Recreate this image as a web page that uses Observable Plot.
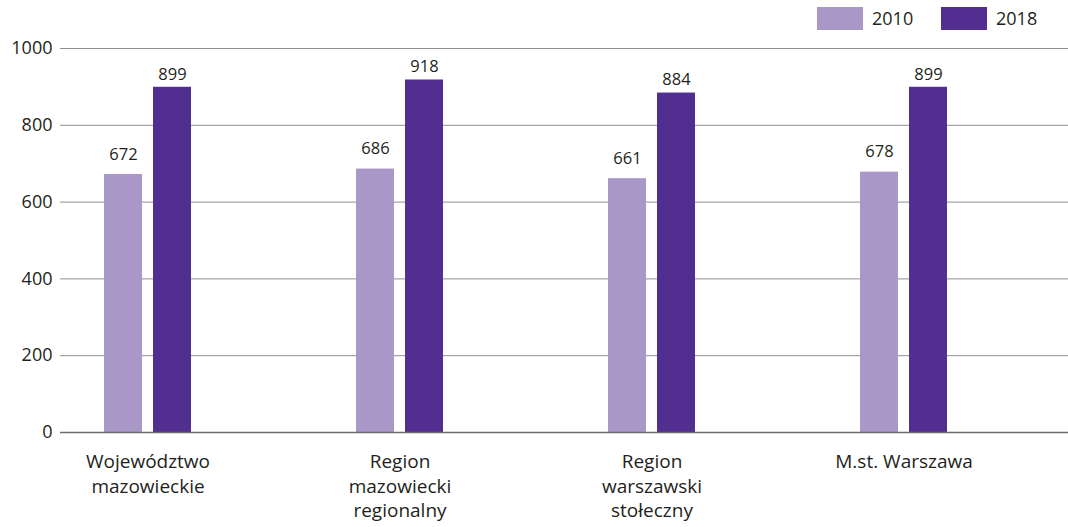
<!DOCTYPE html>
<html>
<head>
<meta charset="utf-8">
<script src="https://cdn.jsdelivr.net/npm/d3@7"></script>
<script src="https://cdn.jsdelivr.net/npm/@observablehq/plot@0.6"></script>
<style>
  html, body { margin: 0; padding: 0; background: #fff; }
  body { width: 1068px; height: 527px; overflow: hidden; font-family: "Open Sans", sans-serif; color: #231f20; }
  #legend { position: relative; height: 30px; }
  .sw { position: absolute; top: 7px; width: 46px; height: 23px; }
  .lt { position: absolute; top: 6px; font-size: 18px; line-height: 24px; }
</style>
</head>
<body>
<div id="legend"></div>
<div id="chart"></div>
<script>
const categories = ["Województwo mazowieckie", "Region mazowiecki regionalny", "Region warszawski stołeczny", "M.st. Warszawa"];
const categoryLabels = ["Województwo\nmazowieckie", "Region\nmazowiecki\nregionalny", "Region\nwarszawski\nstołeczny", "M.st. Warszawa"];
const years = ["2010", "2018"];
const values2010 = [672, 686, 661, 678];
const values2018 = [899, 918, 884, 899];
const yTicks = [0, 200, 400, 600, 800, 1000];
const colors = ["#a897c7", "#512e8f"];

const data = categories.flatMap((c, i) => [
  {cat: c, year: years[0], value: values2010[i]},
  {cat: c, year: years[1], value: values2018[i]}
]);
const labelData = categories.map((c, i) => ({cat: c, label: categoryLabels[i]}));

// legend
const legend = document.getElementById("legend");
const legendPos = [[817, 872], [941, 996]];
years.forEach((y, i) => {
  const sw = document.createElement("div");
  sw.className = "sw";
  sw.style.left = legendPos[i][0] + "px";
  sw.style.background = colors[i];
  legend.appendChild(sw);
  const t = document.createElement("div");
  t.className = "lt";
  t.style.left = legendPos[i][1] + "px";
  t.textContent = y;
  legend.appendChild(t);
});

const chart = Plot.plot({
  width: 1068,
  height: 497,
  marginLeft: 60,
  marginRight: 0,
  marginTop: 18,
  marginBottom: 95,
  style: {fontFamily: "'Open Sans', sans-serif", fontSize: "18px", color: "#231f20", background: "#fff", overflow: "visible"},
  fx: {domain: categories, padding: 0, axis: null},
  x: {domain: years, paddingInner: 0.22, paddingOuter: 1.68, align: 0.27, axis: null},
  y: {domain: [0, 1000], ticks: yTicks, tickSize: 0, tickPadding: 8, label: null, tickFormat: d => String(d)},
  color: {domain: years, range: colors},
  marks: [
    Plot.ruleY(yTicks.filter(d => d > 0), {stroke: "#8f8f8f", strokeWidth: 1}),
    Plot.barY(data, {fx: "cat", x: "year", y: "value", fill: "year"}),
    Plot.ruleY([0], {stroke: "#6b6b6b", strokeWidth: 1.5}),
    Plot.text(data.filter(d => d.year === years[0]), {fx: "cat", x: "year", y: "value", text: d => String(d.value), dy: -20, fontSize: 16.5, fill: "#231f20"}),
    Plot.text(data.filter(d => d.year === years[1]), {fx: "cat", x: "year", y: "value", text: d => String(d.value), dy: -13, fontSize: 16.5, fill: "#231f20"}),
    Plot.text(labelData, {fx: "cat", x: () => years[0], dx: 24.5, frameAnchor: "bottom", lineAnchor: "top", dy: 18, text: "label", lineHeight: 1.3, fontSize: 19, fill: "#231f20"})
  ]
});
document.getElementById("chart").appendChild(chart);
</script>
</body>
</html>
